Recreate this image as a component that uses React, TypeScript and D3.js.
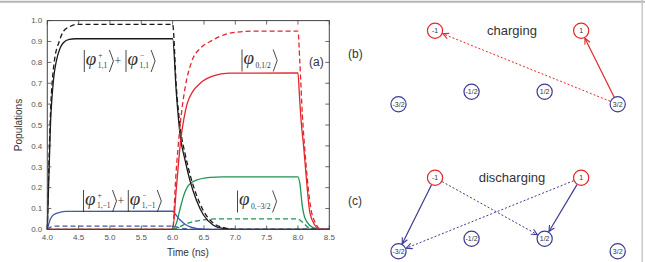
import * as d3 from "d3";

type Pt = [number, number];

// populations vs time (ns); solid = one branch, dashed = the other
const blackSolid: Pt[] = [
  [4.0, 0], [4.05, 0.5], [4.1, 0.72], [4.14, 0.8], [4.2, 0.865], [4.26, 0.895], [4.35, 0.91],
  [4.45, 0.913], [5.0, 0.913], [6.0, 0.913], [6.06, 0.65], [6.12, 0.45], [6.2, 0.33],
  [6.28, 0.23], [6.38, 0.14], [6.49, 0.07], [6.65, 0.02], [6.8, 0.005], [7.0, 0], [8.5, 0],
];
const blackDashed: Pt[] = [
  [4.0, 0], [4.05, 0.55], [4.11, 0.8], [4.19, 0.9], [4.26, 0.95], [4.35, 0.97], [4.47, 0.982],
  [6.0, 0.982], [6.06, 0.68], [6.13, 0.47], [6.2, 0.36], [6.28, 0.26], [6.38, 0.165],
  [6.49, 0.09], [6.65, 0.03], [6.8, 0.01], [7.0, 0], [8.5, 0],
];
const blueSolid: Pt[] = [
  [4.0, 0], [4.05, 0.05], [4.1, 0.07], [4.2, 0.082], [4.3, 0.086], [6.0, 0.087], [6.05, 0.07],
  [6.12, 0.045], [6.2, 0.025], [6.28, 0.012], [6.4, 0.004], [6.6, 0], [8.5, 0],
];
const blueDashed: Pt[] = [
  [4.0, 0], [4.06, 0.012], [4.15, 0.016], [6.0, 0.016], [6.1, 0.008], [6.25, 0.002], [6.4, 0],
  [8.5, 0],
];
const redSolid: Pt[] = [
  [4.0, 0], [6.0, 0], [6.06, 0.2], [6.13, 0.43], [6.18, 0.53], [6.23, 0.6], [6.32, 0.66],
  [6.44, 0.7], [6.65, 0.735], [6.9, 0.748], [8.0, 0.75], [8.02, 0.66], [8.05, 0.52], [8.09, 0.4],
  [8.11, 0.33], [8.15, 0.19], [8.19, 0.08], [8.27, 0.02], [8.35, 0], [8.5, 0],
];
const redDashed: Pt[] = [
  [4.0, 0], [6.0, 0], [6.05, 0.25], [6.12, 0.5], [6.2, 0.68], [6.3, 0.8], [6.45, 0.87],
  [6.6, 0.9], [6.92, 0.94], [7.3, 0.95], [8.0, 0.95], [8.03, 0.8], [8.07, 0.55], [8.11, 0.38],
  [8.15, 0.24], [8.2, 0.11], [8.28, 0.03], [8.37, 0], [8.5, 0],
];
const greenSolid: Pt[] = [
  [4.0, 0], [6.0, 0], [6.06, 0.03], [6.12, 0.1], [6.17, 0.156], [6.25, 0.21], [6.38, 0.236],
  [6.6, 0.249], [6.8, 0.252], [8.0, 0.252], [8.03, 0.22], [8.07, 0.11], [8.1, 0.065],
  [8.14, 0.037], [8.25, 0.007], [8.35, 0], [8.5, 0],
];
const greenDashed: Pt[] = [
  [6.0, 0], [6.06, 0.005], [6.2, 0.025], [6.33, 0.037], [6.5, 0.046], [6.7, 0.05], [8.0, 0.05],
  [8.05, 0.04], [8.09, 0.03], [8.15, 0.012], [8.22, 0.003], [8.3, 0],
];

const xTicks = [4.0, 4.5, 5.0, 5.5, 6.0, 6.5, 7.0, 7.5, 8.0, 8.5];
const yTicks = [0, 0.1, 0.2, 0.3, 0.4, 0.5, 0.6, 0.7, 0.8, 0.9, 1.0];

// spin levels and transitions for the level diagrams
const electronLevels = [-1, 1];
const holeLevels = [-1.5, -0.5, 0.5, 1.5];
const levelNames: Record<string, string> = {
  "-1.5": "-3/2", "-1": "-1", "-0.5": "-1/2", "0.5": "1/2", "1": "1", "1.5": "3/2",
};
const chargingArrows = [
  { from: 1.5, to: 1, dotted: false },
  { from: 1.5, to: -1, dotted: true },
];
const dischargingArrows = [
  { from: -1, to: -1.5, dotted: false },
  { from: 1, to: 0.5, dotted: false },
  { from: -1, to: 0.5, dotted: true },
  { from: 1, to: -1.5, dotted: true },
];

const RED = "#e3262b";
const BLUE = "#3d5ba9";
const GREEN = "#1f9455";
const BLACK = "#1a1a1a";
const INDIGO = "#3c3a92";
const SANS = "Liberation Sans, Arial, sans-serif";
const SERIF = "Liberation Serif, Times New Roman, serif";

const x = d3.scaleLinear().domain([4, 8.5]).range([47.3, 329.3]);
const y = d3.scaleLinear().domain([0, 1]).range([229.4, 20.6]);

const lineGen = d3
  .line<Pt>()
  .x((d) => x(d[0]))
  .y((d) => y(d[1]))
  .curve(d3.curveMonotoneX);

const series = [
  { data: greenSolid, color: GREEN, dash: undefined },
  { data: greenDashed, color: GREEN, dash: "5,3" },
  { data: blueSolid, color: BLUE, dash: undefined },
  { data: blueDashed, color: BLUE, dash: "5,3" },
  { data: blackDashed, color: BLACK, dash: "5,3" },
  { data: blackSolid, color: BLACK, dash: undefined },
  { data: redDashed, color: RED, dash: "5,3" },
  { data: redSolid, color: RED, dash: undefined },
];

// level diagram layout
const sx = d3.scaleLinear().domain([-1.5, 1.5]).range([398.5, 617.7]);
const rowY = (m: number) => (Math.abs(m) === 1 ? 0 : Math.abs(m) === 0.5 ? 61 : 73.6);
const R = 7.6;

function Ket({ x0, yMid, sup, sub }: { x0: number; yMid: number; sup?: string; sub: string }) {
  const h = 11;
  const subW = sub.split("").reduce((s, c) => s + (c === "," ? 2 : c === "/" ? 2.2 : 3.9), 0);
  const sx0 = x0 + 13.5;
  const bx = sx0 + subW + 1.8;
  return (
    <g fill="#333" stroke="none">
      <line x1={x0} x2={x0} y1={yMid - h} y2={yMid + h} stroke="#333" strokeWidth={0.9} />
      <text x={x0 + 1.5} y={yMid + 3.5} fontFamily={SERIF} fontStyle="italic" fontSize={19}>
        φ
      </text>
      {sup && (
        <text x={sx0 + 0.5} y={yMid - 3} fontFamily={SERIF} fontSize={7.5}>
          {sup}
        </text>
      )}
      <text x={sx0} y={yMid + 7} fontFamily={SERIF} fontSize={7.5}>
        {sub}
      </text>
      <path
        d={`M${bx},${yMid - h}L${bx + 4},${yMid}L${bx},${yMid + h}`}
        fill="none"
        stroke="#333"
        strokeWidth={0.9}
      />
    </g>
  );
}

function LevelPanel({
  top,
  title,
  tag,
  arrows,
  arrowColor,
}: {
  top: number;
  title: string;
  tag: string;
  arrows: { from: number; to: number; dotted: boolean }[];
  arrowColor: string;
}) {
  const pos = (m: number): Pt => [sx(m), top + rowY(m)];
  return (
    <g>
      <text x={348} y={top + 27} fontFamily={SANS} fontSize={12} fill="#333">
        {tag}
      </text>
      <text x={512} y={top + 4} fontFamily={SANS} fontSize={13} fill="#333" textAnchor="middle">
        {title}
      </text>
      {arrows.map((a, i) => {
        const [x1, y1] = pos(a.from);
        const [x2, y2] = pos(a.to);
        const len = Math.hypot(x2 - x1, y2 - y1);
        const ux = (x2 - x1) / len;
        const uy = (y2 - y1) / len;
        const sxp = x1 + ux * (R + 0.5);
        const syp = y1 + uy * (R + 0.5);
        const ex = x2 - ux * (R + 0.8);
        const ey = y2 - uy * (R + 0.8);
        const ang = Math.atan2(uy, ux);
        const hl = 6.5;
        const a1 = ang + Math.PI - 0.45;
        const a2 = ang + Math.PI + 0.45;
        return (
          <g key={i} stroke={arrowColor} fill="none">
            <line
              x1={sxp}
              y1={syp}
              x2={ex}
              y2={ey}
              strokeWidth={a.dotted ? 1 : 1.2}
              strokeDasharray={a.dotted ? "2,2" : undefined}
            />
            <path
              d={`M${ex + hl * Math.cos(a1)},${ey + hl * Math.sin(a1)}L${ex},${ey}L${
                ex + hl * Math.cos(a2)
              },${ey + hl * Math.sin(a2)}`}
              strokeWidth={1.1}
            />
          </g>
        );
      })}
      {[...electronLevels, ...holeLevels].map((m) => {
        const [cx, cy] = pos(m);
        const col = electronLevels.includes(m) ? RED : INDIGO;
        return (
          <g key={m}>
            <circle cx={cx} cy={cy} r={R} fill="white" stroke={col} strokeWidth={1.2} />
            <text
              x={cx}
              y={cy + 2.5}
              fontFamily={SANS}
              fontSize={7}
              fill="#333"
              textAnchor="middle"
            >
              {levelNames[String(m)]}
            </text>
          </g>
        );
      })}
    </g>
  );
}

export default function App() {
  const [x0, x1] = x.range();
  const [y0, y1] = y.range();
  const fmt = d3.format(".1f");
  return (
    <svg
      width={645}
      height={262}
      style={{ position: "absolute", left: 0, top: 0, background: "white" }}
    >
      <line x1={0} x2={645} y1={1.8} y2={1.8} stroke="#b5b5b5" strokeWidth={2} />
      <line x1={642.2} x2={642.2} y1={0} y2={262} stroke="#c8c8c8" strokeWidth={1.5} />

      {/* curves */}
      <g fill="none" strokeWidth={1.3}>
        {series.map((s, i) => (
          <path key={i} d={lineGen(s.data) ?? ""} stroke={s.color} strokeDasharray={s.dash} />
        ))}
      </g>

      {/* frame and inward ticks */}
      <rect x={x0} y={y1} width={x1 - x0} height={y0 - y1} fill="none" stroke="#444" strokeWidth={1} />
      <g stroke="#444" strokeWidth={0.8}>
        {xTicks.map((t) => (
          <g key={t}>
            <line x1={x(t)} x2={x(t)} y1={y0} y2={y0 - 4} />
            <line x1={x(t)} x2={x(t)} y1={y1} y2={y1 + 4} />
          </g>
        ))}
        {yTicks.map((t) => (
          <g key={t}>
            <line x1={x0} x2={x0 + 4} y1={y(t)} y2={y(t)} />
            <line x1={x1} x2={x1 - 4} y1={y(t)} y2={y(t)} />
          </g>
        ))}
      </g>
      <g fontFamily={SANS} fontSize={8} fill="#555">
        {xTicks.map((t) => (
          <text key={t} x={x(t)} y={y0 + 11} textAnchor="middle">
            {fmt(t)}
          </text>
        ))}
        {yTicks.map((t) => (
          <text key={t} x={x0 - 5} y={y(t) + 2.8} textAnchor="end">
            {fmt(t)}
          </text>
        ))}
      </g>
      <text
        x={188}
        y={256}
        fontFamily={SANS}
        fontSize={10}
        fill="#333"
        textAnchor="middle"
      >
        Time (ns)
      </text>
      <text
        transform="translate(22,125) rotate(-90)"
        fontFamily={SANS}
        fontSize={10}
        fill="#333"
        textAnchor="middle"
      >
        Populations
      </text>
      <text x={309} y={66} fontFamily={SANS} fontSize={12} fill="#333">
        (a)
      </text>

      {/* state labels */}
      <Ket x0={84.3} yMid={61} sup="+" sub="1,1" />
      <text x={114.5} y={65} fontFamily={SERIF} fontSize={12} fill="#333">
        +
      </text>
      <Ket x0={126} yMid={61} sup="−" sub="1,1" />
      <Ket x0={242} yMid={60.5} sub="0,1/2" />
      <Ket x0={83.5} yMid={201} sup="+" sub="1,−1" />
      <text x={117.5} y={205} fontFamily={SERIF} fontSize={12} fill="#333">
        +
      </text>
      <Ket x0={128.3} yMid={201} sup="−" sub="1,−1" />
      <Ket x0={237.5} yMid={201.5} sub="0,−3/2" />

      <LevelPanel top={30.7} title="charging" tag="(b)" arrows={chargingArrows} arrowColor={RED} />
      <LevelPanel
        top={177.7}
        title="discharging"
        tag="(c)"
        arrows={dischargingArrows}
        arrowColor={INDIGO}
      />
    </svg>
  );
}
